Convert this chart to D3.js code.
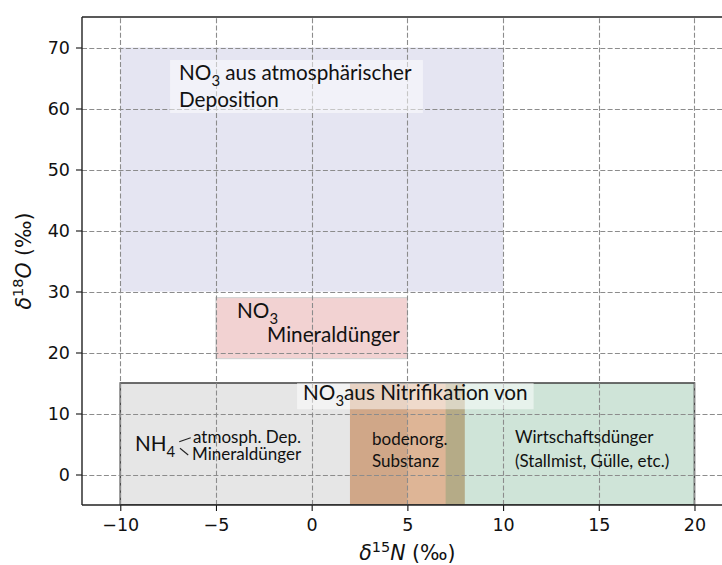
<!DOCTYPE html>
<html>
<head>
<meta charset="utf-8">
<script src="https://cdn.jsdelivr.net/npm/d3@7"></script>
<style>
  body { margin: 0; background: #fff; }
  svg { display: block; }
</style>
</head>
<body>
<svg id="chart" width="722" height="565"></svg>
<script>
// Axis ticks and extents (δ15N in ‰, δ18O in ‰)
const xTicks = [-10, -5, 0, 5, 10, 15, 20];
const yTicks = [0, 10, 20, 30, 40, 50, 60, 70];
const xDomain = [-12, 22];
const yDomain = [-5, 75];

// Source fields: δ15N range and δ18O range of each nitrate / ammonium source
const fieldNames = ["NO3 atmosph. Deposition", "NO3 Mineraldünger", "NH4", "bodenorg. Substanz", "Wirtschaftsdünger", "Nitrifikation"];
const fieldN = [[-10, 10], [-5, 5], [-10, 5], [2, 8], [7, 20], [-10, 20]];
const fieldO = [[30, 70], [19, 29], [-5, 15], [-5, 15], [-5, 15], [-5, 15]];

// Field styling, one entry per field
const fieldFill = ["#7b7bc0", "#cb4b4b", "#808080", "#b65b16", "#2e8b57", "none"];
const fieldAlpha = [0.2, 0.25, 0.2, 0.45, 0.23, 0];
const fieldStroke = ["none", "#d4d4d4", "none", "none", "none", "#4a4a4a"];

// Text annotations: each is a list of lines, each line a list of parts (sub = subscript)
const annoText = [
  [[{ t: "NO" }, { t: "3", sub: true }, { t: " aus atmosphärischer" }], [{ t: "Deposition" }]],
  [[{ t: "NO" }, { t: "3", sub: true }], [{ t: "Mineraldünger" }]],
  [[{ t: "NO" }, { t: "3", sub: true }, { t: "aus Nitrifikation von" }]],
  [[{ t: "NH" }, { t: "4", sub: true }]],
  [[{ t: "atmosph. Dep." }], [{ t: "Mineraldünger" }]],
  [[{ t: "bodenorg." }], [{ t: "Substanz" }]],
  [[{ t: "Wirtschaftsdünger" }], [{ t: "(Stallmist, Gülle, etc.)" }]]
];
// First-line anchor in data coordinates (δ15N, δ18O)
const annoN = [-6.93, -3.90, -0.45, -9.23, -6.20, 3.15, 10.62];
const annoO = [64.67, 25.66, 12.21, 3.85, 5.11, 4.84, 5.16];
// Horizontal offsets of following lines (δ15N units) and line spacing (δ18O units)
const annoIndent = [0, 1.57, 0, 0, -0.05, 0, 0];
const annoLead = [4.42, 3.94, 0, 0, 2.73, 3.56, 3.93];
const annoSize = [20.7, 20.7, 20.7, 20.7, 17, 17, 17];

// Brace strokes joining NH4 to its two sources: [[n0, o0], [n1, o1]]
const braceLines = [
  [[-6.92, 5.38], [-6.32, 6.03]],
  [[-6.88, 4.30], [-6.45, 3.20]]
];

// Semi-transparent label boxes around annotations 0 and 2
const boxFor = [0, 2];
const boxPad = [{ l: 9, r: 11, t: 0, b: 2 }, { l: 6, r: 6, t: -3, b: 0 }];

const svg = d3.select("#chart");

const x = d3.scaleLinear().domain(xDomain).range([82, 82 + 34 * 19.14]);
const y = d3.scaleLinear().domain(yDomain).range([505, 17]);

const labelFont = "Lato, 'Open Sans', sans-serif";
const tickFont = "'DejaVu Sans', sans-serif";

// Clip to plotting area
svg.append("clipPath").attr("id", "plotclip")
  .append("rect")
  .attr("x", x(xDomain[0])).attr("y", y(yDomain[1]))
  .attr("width", x(xDomain[1]) - x(xDomain[0]))
  .attr("height", y(yDomain[0]) - y(yDomain[1]));

const plot = svg.append("g").attr("clip-path", "url(#plotclip)");

// Source field rectangles (filled ones first, framed box last)
const fields = fieldNames.map((name, i) => ({ name, n: fieldN[i], o: fieldO[i], i }));
plot.selectAll("rect.field")
  .data(fields)
  .join("rect")
  .attr("class", "field")
  .attr("x", d => x(d.n[0]))
  .attr("y", d => y(d.o[1]))
  .attr("width", d => x(d.n[1]) - x(d.n[0]))
  .attr("height", d => y(d.o[0]) - y(d.o[1]))
  .attr("fill", d => fieldFill[d.i])
  .attr("fill-opacity", d => fieldAlpha[d.i])
  .attr("stroke", d => fieldStroke[d.i])
  .attr("stroke-width", d => d.i === 5 ? 1.6 : 1.2);

// Dashed grid
const grid = plot.append("g").attr("stroke", "#8c8c8c").attr("stroke-width", 1.1)
  .attr("stroke-dasharray", "5,2.3").attr("fill", "none");
grid.selectAll("line.gx").data(xTicks).join("line").attr("class", "gx")
  .attr("x1", d => Math.round(x(d)) + 0.5).attr("x2", d => Math.round(x(d)) + 0.5)
  .attr("y1", y(yDomain[0])).attr("y2", y(yDomain[1]));
grid.selectAll("line.gy").data(yTicks).join("line").attr("class", "gy")
  .attr("y1", d => Math.round(y(d)) + 0.5).attr("y2", d => Math.round(y(d)) + 0.5)
  .attr("x1", x(xDomain[0])).attr("x2", x(xDomain[1]));

// Annotations (one text element per label, lines as tspans)
const annoLayer = svg.append("g");
const pxPerO = y(0) - y(1);
const annoNodes = annoText.map((lines, i) => {
  const fs = annoSize[i];
  const t = annoLayer.append("text")
    .attr("font-family", labelFont).attr("font-size", fs)
    .attr("fill", "#111");
  lines.forEach((parts, li) => {
    const lx = x(annoN[i] + (li > 0 ? annoIndent[i] : 0));
    const ly = y(annoO[i]) + li * annoLead[i] * pxPerO;
    parts.forEach((p, pi) => {
      const ts = t.append("tspan").text(p.t);
      if (pi === 0) ts.attr("x", lx).attr("y", ly);
      if (p.sub) {
        ts.attr("font-size", fs * 0.72).attr("dy", fs * 0.3);
      } else if (pi > 0 && parts[pi - 1].sub) {
        ts.attr("dy", -fs * 0.3);
      }
    });
  });
  return t;
});

// Label boxes behind their text
boxFor.forEach((i, k) => {
  const b = annoNodes[i].node().getBBox();
  const p = boxPad[k];
  annoLayer.insert("rect", ":first-child")
    .attr("x", b.x - p.l).attr("y", b.y - p.t)
    .attr("width", b.width + p.l + p.r).attr("height", b.height + p.t + p.b)
    .attr("fill", "#fff").attr("fill-opacity", 0.5);
});

annoLayer.selectAll("line.brace").data(braceLines).join("line")
  .attr("class", "brace")
  .attr("x1", d => x(d[0][0])).attr("y1", d => y(d[0][1]))
  .attr("x2", d => x(d[1][0])).attr("y2", d => y(d[1][1]))
  .attr("stroke", "#222").attr("stroke-width", 1.1);

// Axes
const xAxis = d3.axisBottom(x).tickValues(xTicks).tickSize(6).tickPadding(8)
  .tickFormat(d => d < 0 ? "\u2212" + Math.abs(d) : d);
const yAxis = d3.axisLeft(y).tickValues(yTicks).tickSize(6).tickPadding(6);

const gx = svg.append("g").attr("transform", `translate(0,${y(yDomain[0])})`).call(xAxis);
const gy = svg.append("g").attr("transform", `translate(${x(xDomain[0])},0)`).call(yAxis);
[gx, gy].forEach(g => {
  g.select(".domain").remove();
  g.selectAll(".tick line").attr("stroke", "#111").attr("stroke-width", 1.1);
  g.selectAll(".tick text").attr("font-family", tickFont).attr("font-size", 17.5).attr("fill", "#111");
});

// Axes frame (left, bottom, top spines)
const frame = svg.append("g").attr("stroke", "#222").attr("stroke-width", 1.4).attr("fill", "none");
frame.append("line").attr("x1", x(xDomain[0])).attr("x2", x(xDomain[0])).attr("y1", y(yDomain[0])).attr("y2", y(yDomain[1]));
frame.append("line").attr("x1", x(xDomain[0])).attr("x2", x(xDomain[1])).attr("y1", y(yDomain[0])).attr("y2", y(yDomain[0]));
frame.append("line").attr("x1", x(xDomain[0])).attr("x2", x(xDomain[1])).attr("y1", y(yDomain[1])).attr("y2", y(yDomain[1]));

// Axis titles: δ15N (‰) and δ18O (‰)
function axisTitle(sel, sup, letter) {
  sel.attr("font-family", tickFont).attr("font-size", 20.5).attr("fill", "#111");
  sel.append("tspan").attr("font-style", "italic").text("δ");
  sel.append("tspan").attr("font-size", 14.5).attr("dy", -8).text(sup);
  sel.append("tspan").attr("font-style", "italic").attr("dy", 8).text(letter);
  sel.append("tspan").text(" (‰)");
}
const xMid = (x(xDomain[0]) + x(xDomain[1])) / 2;
axisTitle(svg.append("text").attr("x", xMid).attr("y", 560).attr("text-anchor", "middle"), "15", "N");
axisTitle(svg.append("text").attr("transform", `translate(31,${(y(yDomain[0]) + y(yDomain[1])) / 2}) rotate(-90)`)
  .attr("text-anchor", "middle"), "18", "O");
</script>
</body>
</html>
